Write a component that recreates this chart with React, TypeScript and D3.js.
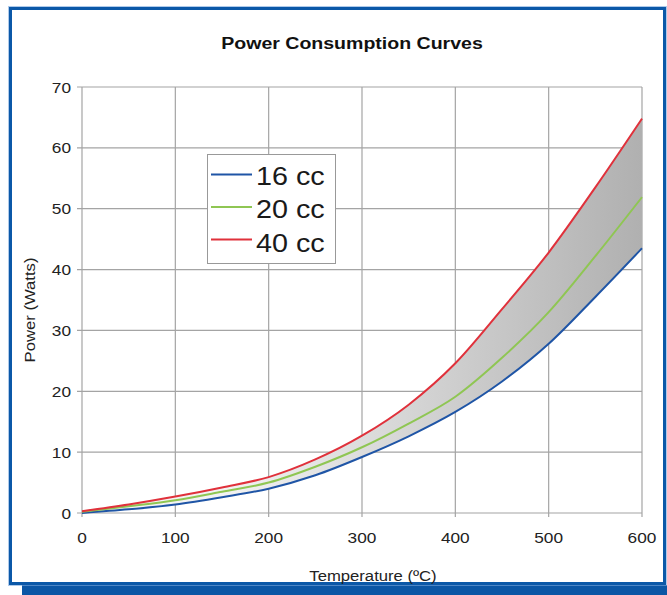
import React from "react";
import * as d3 from "d3";

const temps = [0, 50, 100, 150, 200, 250, 300, 350, 400, 450, 500, 550, 600];
const cc16 = [0, 0.6, 1.4, 2.6, 4.0, 6.2, 9.2, 12.6, 16.6, 21.6, 27.8, 35.5, 43.5];
const cc20 = [0.2, 1.1, 2.1, 3.5, 5.0, 7.6, 10.8, 14.7, 19.1, 25.5, 33.0, 42.2, 51.9];
const cc40 = [0.3, 1.4, 2.7, 4.2, 5.9, 8.8, 12.7, 17.8, 24.6, 33.5, 42.8, 53.5, 64.8];
const seriesNames = ["16 cc", "20 cc", "40 cc"];
const seriesColors = ["#1f55a6", "#8fc653", "#e0313b"];
const xTicks = [0, 100, 200, 300, 400, 500, 600];
const yTicks = [0, 10, 20, 30, 40, 50, 60, 70];

const W = 667;
const H = 595;
const FONT = "'Liberation Sans', Arial, Helvetica, sans-serif";
const SX = 1.15;

function SText({ x, y, size, anchor = "start", weight = "normal", rotate = 0, fill = "#222", children }: any) {
  return (
    <text
      transform={`translate(${x},${y}) rotate(${rotate}) scale(${SX},1)`}
      fontSize={size}
      fontFamily={FONT}
      fontWeight={weight}
      textAnchor={anchor}
      fill={fill}
    >
      {children}
    </text>
  );
}

export default function App() {
  const x = d3.scaleLinear().domain([0, 600]).range([82, 642]);
  const y = d3.scaleLinear().domain([0, 70]).range([513, 87]);
  const series = [cc16, cc20, cc40];
  const pts = (arr: number[]) => temps.map((t, i) => [t, arr[i]] as [number, number]);
  const line = d3
    .line<[number, number]>()
    .x((d) => x(d[0]))
    .y((d) => y(d[1]))
    .curve(d3.curveMonotoneX);
  const area = d3
    .area<number>()
    .x((_, i) => x(temps[i]))
    .y0((_, i) => y(cc16[i]))
    .y1((_, i) => y(cc40[i]))
    .curve(d3.curveMonotoneX);
  const gridColor = "#a4a4a4";

  return (
    <svg width={W} height={H} style={{ position: "absolute", left: 0, top: 0, background: "#fff" }}>
      <defs>
        <linearGradient id="band" gradientUnits="userSpaceOnUse" x1={x(150)} y1={0} x2={x(600)} y2={0}>
          <stop offset="0" stopColor="#f3f3f3" />
          <stop offset="1" stopColor="#b0b0b0" />
        </linearGradient>
      </defs>
      <rect x={0} y={0} width={W} height={H} fill="#fff" />
      {/* frame */}
      <rect x={22} y={585} width={645} height={10} fill="#0b56a5" />
      <rect x={10.5} y={8.5} width={654} height={575} fill="#fff" stroke="#0b58a8" strokeWidth={3} />
      <rect x={8.5} y={6.5} width={658} height={579} fill="none" stroke="#79a7dc" strokeWidth={1} opacity={0.6} />

      <SText x={352} y={49} size={17} anchor="middle" weight="bold" fill="#111">
        Power Consumption Curves
      </SText>

      {/* grid */}
      {yTicks.map((t) => (
        <g key={"y" + t}>
          <line x1={77} x2={642} y1={y(t)} y2={y(t)} stroke={gridColor} strokeWidth={1.2} />
          <SText x={71} y={y(t) + 5.5} size={15} anchor="end">
            {t}
          </SText>
        </g>
      ))}
      {xTicks.map((t) => (
        <g key={"x" + t}>
          <line x1={x(t)} x2={x(t)} y1={87} y2={517} stroke={gridColor} strokeWidth={1.2} />
          <SText x={x(t)} y={543} size={15} anchor="middle">
            {t}
          </SText>
        </g>
      ))}

      <path d={area(cc16) || ""} fill="url(#band)" />
      {series.map((s, i) => (
        <path key={i} d={line(pts(s)) || ""} fill="none" stroke={seriesColors[i]} strokeWidth={2} />
      ))}

      {/* axis titles */}
      <SText x={373} y={581} size={14.5} anchor="middle">
        Temperature (ºC)
      </SText>
      <SText x={35} y={310} size={14.5} anchor="middle" rotate={-90}>
        Power (Watts)
      </SText>

      {/* legend */}
      <rect x={207.5} y={154.5} width={128} height={109} fill="#fff" stroke="#999" strokeWidth={1} />
      {seriesNames.map((n, i) => (
        <g key={n}>
          <line x1={211} x2={252} y1={174.5 + i * 32.5} y2={174.5 + i * 32.5} stroke={seriesColors[i]} strokeWidth={2} />
          <SText x={256} y={184.5 + i * 33.5} size={25} fill="#1a1a1a">
            {n}
          </SText>
        </g>
      ))}
    </svg>
  );
}
